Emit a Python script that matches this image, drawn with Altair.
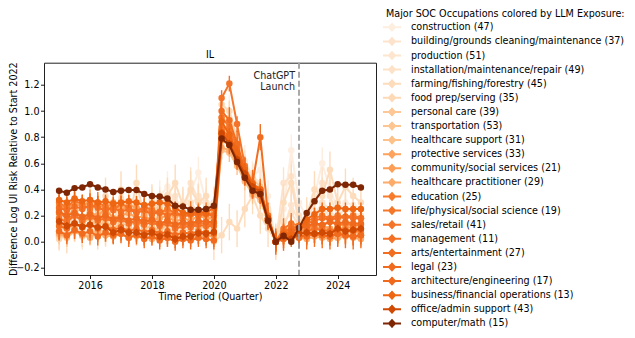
import altair as alt
import pandas as pd

QUARTERS = [2015.0, 2015.25, 2015.5, 2015.75, 2016.0, 2016.25, 2016.5, 2016.75,
            2017.0, 2017.25, 2017.5, 2017.75, 2018.0, 2018.25, 2018.5, 2018.75,
            2019.0, 2019.25, 2019.5, 2019.75, 2020.0, 2020.25, 2020.5, 2020.75,
            2021.0, 2021.25, 2021.5, 2021.75, 2022.0, 2022.25, 2022.5, 2022.75,
            2023.0, 2023.25, 2023.5, 2023.75, 2024.0, 2024.25, 2024.5, 2024.75]

OCCUPATIONS = [
    "construction (47)", "building/grounds cleaning/maintenance (37)", "production (51)",
    "installation/maintenance/repair (49)", "farming/fishing/forestry (45)",
    "food prep/serving (35)", "personal care (39)", "transportation (53)",
    "healthcare support (31)", "protective services (33)", "community/social services (21)",
    "healthcare practitioner (29)", "education (25)", "life/physical/social science (19)",
    "sales/retail (41)", "management (11)", "arts/entertainment (27)", "legal (23)",
    "architecture/engineering (17)", "business/financial operations (13)",
    "office/admin support (43)", "computer/math (15)",
]

COLORS = ["#fdeee0", "#fde3cc", "#fde5cf", "#fde2c8", "#fddcbc", "#fdd9b6", "#fdc895",
          "#fdc690", "#fdc28a", "#fda35e", "#fd9e56", "#fdab6a", "#f77b2a", "#f5772a",
          "#f4742a", "#f37024", "#f16d20", "#f16b1e", "#f06a1e", "#ee6512", "#d14a03",
          "#7f2704"]

ERRORS = [0.12, 0.12, 0.10, 0.10, 0.14, 0.08, 0.07, 0.06, 0.07, 0.07, 0.08, 0.05,
          0.06, 0.08, 0.06, 0.06, 0.10, 0.07, 0.07, 0.05, 0.03, 0.02]

CONSTRUCTION = [0.10, 0.14, 0.18, 0.12, 0.20, 0.16, 0.22, 0.15, 0.25, 0.18, 0.30, 0.20, 0.28, 0.35, 0.42, 0.30, 0.25, 0.38, 0.53, 0.30,
                0.22, 0.85, 1.00, 0.80, 0.62, 0.50, 0.55, 0.35, 0.0,
                0.25, 0.70, 0.30, 0.18, 0.35, 0.60, 0.40, 0.25, 0.30, 0.28, 0.25]
BUILDING = [0.05, 0.08, 0.12, 0.06, 0.10, 0.14, 0.08, 0.18, 0.12, 0.20, 0.15, 0.10, 0.22, 0.30, 0.25, 0.35, 0.20, 0.45, 0.32, 0.28,
            0.30, 0.75, 0.95, 0.70, 0.55, 0.45, 0.40, 0.22, 0.0,
            0.45, 0.50, 0.20, 0.15, 0.30, 0.45, 0.35, 0.20, 0.25, 0.22, 0.20]
PRODUCTION = [0.20, 0.22, 0.25, 0.18, 0.24, 0.28, 0.20, 0.26, 0.22, 0.30, 0.25, 0.22, 0.32, 0.28, 0.36, 0.25, 0.30, 0.28, 0.35, 0.30,
              0.28, 0.90, 0.85, 0.72, 0.60, 0.50, 0.45, 0.25, 0.0,
              0.10, 0.28, 0.15, 0.12, 0.20, 0.30, 0.25, 0.15, 0.18, 0.20, 0.18]
INSTALLATION = [0.08, 0.12, 0.10, 0.15, 0.12, 0.18, 0.14, 0.10, 0.16, 0.20, 0.12, 0.18, 0.15, 0.22, 0.18, 0.25, 0.14, 0.30, 0.22, 0.20,
                0.18, 0.80, 0.78, 0.65, 0.50, 0.42, 0.38, 0.20, 0.0,
                0.15, 0.22, 0.12, 0.10, 0.18, 0.25, 0.20, 0.12, 0.15, 0.14, 0.12]
FARMING = [0.18, 0.05, 0.25, 0.10, 0.30, 0.08, 0.35, 0.12, 0.40, 0.15, 0.45, 0.20, 0.30, 0.25, 0.35, 0.45, 0.28, 0.40, 0.30, 0.35,
           0.00, 0.05, 0.15, 0.10, 0.25, 0.35, 0.20, 0.10, 0.0,
           0.30, 0.45, 0.15, 0.20, 0.40, 0.35, 0.55, 0.30, 0.42, 0.35, 0.30]
FOOD_PREP = [0.02, 0.05, 0.08, 0.04, 0.06, 0.10, 0.05, 0.08, 0.06, 0.12, 0.08, 0.05, 0.10, 0.08, 0.12, 0.06, 0.10, 0.08, 0.12, 0.10,
             0.10, 1.05, 1.00, 0.78, 0.58, 0.45, 0.40, 0.22, 0.0,
             0.05, 0.10, 0.04, 0.06, 0.08, 0.12, 0.06, 0.05, 0.08, 0.06, 0.05]
PERSONAL_CARE = [0.05, 0.03, 0.08, 0.06, 0.04, 0.10, 0.07, 0.05, 0.09, 0.06, 0.04, 0.08, 0.05, 0.06, 0.03, 0.07, 0.05, 0.08, 0.06, 0.04,
                 0.08, 0.95, 0.90, 0.70, 0.55, 0.48, 0.42, 0.20, 0.0,
                 0.02, 0.05, 0.03, 0.04, 0.06, 0.05, 0.04, 0.03, 0.05, 0.04, 0.03]
TRANSPORTATION = [0.25, 0.28, 0.22, 0.26, 0.30, 0.24, 0.28, 0.25, 0.27, 0.22, 0.26, 0.24, 0.20, 0.25, 0.22, 0.18, 0.22, 0.20, 0.24, 0.22,
                  0.22, 0.80, 0.80, 0.66, 0.52, 0.40, 0.36, 0.18, 0.0,
                  0.08, 0.12, 0.10, 0.08, 0.14, 0.12, 0.10, 0.08, 0.12, 0.10, 0.09]
HEALTH_SUPPORT = [0.12, 0.15, 0.10, 0.14, 0.18, 0.12, 0.16, 0.10, 0.14, 0.12, 0.16, 0.10, 0.12, 0.08, 0.14, 0.10, 0.12, 0.15, 0.10, 0.12,
                  0.14, 0.70, 0.68, 0.58, 0.46, 0.36, 0.32, 0.15, 0.0,
                  0.06, 0.10, 0.08, 0.05, 0.10, 0.08, 0.06, 0.05, 0.08, 0.07, 0.06]
PROTECTIVE = [0.22, 0.20, 0.24, 0.18, 0.22, 0.20, 0.25, 0.18, 0.20, 0.22, 0.18, 0.20, 0.16, 0.18, 0.20, 0.15, 0.18, 0.16, 0.20, 0.18,
              0.18, 0.85, 0.80, 0.68, 0.52, 0.40, 0.36, 0.16, 0.0,
              0.05, 0.10, 0.08, 0.06, 0.12, 0.10, 0.08, 0.06, 0.10, 0.08, 0.07]
COMMUNITY = [0.28, 0.25, 0.30, 0.26, 0.32, 0.28, 0.26, 0.30, 0.24, 0.28, 0.26, 0.22, 0.25, 0.22, 0.24, 0.20, 0.22, 0.20, 0.22, 0.20,
             0.22, 0.88, 0.84, 0.70, 0.55, 0.42, 0.38, 0.18, 0.0,
             0.06, 0.12, 0.10, 0.08, 0.14, 0.12, 0.10, 0.08, 0.12, 0.10, 0.10]
HEALTH_PRACT = [0.06, 0.04, 0.08, 0.05, 0.03, 0.07, 0.05, 0.04, 0.06, 0.03, 0.05, 0.04, 0.02, 0.04, 0.03, 0.05, 0.02, 0.04, 0.03, 0.05,
                0.04, 0.72, 0.70, 0.60, 0.48, 0.38, 0.34, 0.16, 0.0,
                0.02, 0.04, 0.03, 0.02, 0.04, 0.03, 0.02, 0.03, 0.04, 0.03, 0.02]
EDUCATION = [0.22, 0.18, 0.20, 0.16, 0.19, 0.17, 0.21, 0.15, 0.18, 0.16, 0.14, 0.17, 0.15, 0.13, 0.16, 0.12, 0.14, 0.12, 0.15, 0.13,
             0.14, 0.86, 0.80, 0.66, 0.52, 0.40, 0.36, 0.16, 0.0,
             0.08, 0.10, 0.12, 0.10, 0.14, 0.12, 0.16, 0.12, 0.14, 0.12, 0.13]
SCIENCE = [0.30, 0.26, 0.32, 0.28, 0.25, 0.30, 0.27, 0.24, 0.29, 0.26, 0.23, 0.27, 0.24, 0.22, 0.25, 0.22, 0.20, 0.23, 0.21, 0.22,
           0.20, 0.95, 0.88, 0.72, 0.56, 0.44, 0.40, 0.18, 0.0,
           0.10, 0.14, 0.12, 0.16, 0.18, 0.20, 0.18, 0.20, 0.19, 0.20, 0.18]
SALES = [0.18, 0.15, 0.20, 0.17, 0.19, 0.16, 0.18, 0.15, 0.17, 0.14, 0.16, 0.13, 0.15, 0.12, 0.14, 0.10, 0.12, 0.11, 0.13, 0.12,
         0.12, 1.10, 1.21, 0.90, 0.58, 0.44, 0.40, 0.18, 0.0,
         0.04, 0.08, 0.06, 0.08, 0.10, 0.09, 0.08, 0.10, 0.09, 0.08, 0.09]
MANAGEMENT = [0.26, 0.24, 0.27, 0.25, 0.28, 0.26, 0.24, 0.26, 0.23, 0.25, 0.22, 0.24, 0.21, 0.23, 0.20, 0.22, 0.19, 0.21, 0.20, 0.21,
              0.20, 0.82, 0.78, 0.65, 0.52, 0.40, 0.36, 0.17, 0.0,
              0.07, 0.10, 0.12, 0.14, 0.16, 0.18, 0.17, 0.18, 0.19, 0.18, 0.18]
ARTS = [0.12, 0.10, 0.14, 0.11, 0.13, 0.10, 0.12, 0.09, 0.11, 0.08, 0.10, 0.07, 0.09, 0.06, 0.08, 0.05, 0.07, 0.06, 0.08, 0.07,
        0.06, 1.00, 0.93, 0.75, 0.55, 0.45, 0.80, 0.20, 0.0,
        0.03, 0.06, 0.05, 0.04, 0.06, 0.05, 0.04, 0.06, 0.05, 0.04, 0.05]
LEGAL = [0.08, 0.05, 0.09, 0.06, 0.08, 0.04, 0.07, 0.05, 0.06, 0.03, 0.05, 0.02, 0.04, 0.01, 0.03, 0.00, 0.02, 0.01, 0.03, 0.02,
         0.01, 0.78, 0.74, 0.62, 0.50, 0.40, 0.36, 0.16, 0.0,
         0.02, 0.04, 0.03, 0.05, 0.06, 0.05, 0.04, 0.06, 0.05, 0.04, 0.05]
ARCHITECTURE = [0.23, 0.20, 0.22, 0.19, 0.21, 0.18, 0.20, 0.17, 0.19, 0.16, 0.18, 0.15, 0.17, 0.14, 0.16, 0.13, 0.15, 0.14, 0.16, 0.15,
                0.15, 0.84, 0.78, 0.64, 0.50, 0.40, 0.36, 0.17, 0.0,
                0.05, 0.08, 0.10, 0.12, 0.14, 0.13, 0.15, 0.14, 0.15, 0.14, 0.14]
BUSINESS = [0.32, 0.30, 0.33, 0.31, 0.32, 0.30, 0.31, 0.29, 0.30, 0.31, 0.30, 0.28, 0.29, 0.30, 0.29, 0.26, 0.22, 0.22, 0.23, 0.22,
            0.26, 0.92, 0.82, 0.68, 0.55, 0.44, 0.40, 0.17, 0.0,
            0.06, 0.05, 0.08, 0.17, 0.21, 0.25, 0.25, 0.26, 0.25, 0.25, 0.25]
OFFICE = [0.155, 0.12, 0.14, 0.115, 0.13, 0.11, 0.115, 0.07, 0.09, 0.07, 0.07, 0.05, 0.07, 0.04, 0.055, 0.02, 0.04, 0.04, 0.065, 0.06,
          0.075, 0.83, 0.75, 0.63, 0.52, 0.42, 0.38, 0.18, 0.0,
          0.04, 0.02, 0.06, 0.07, 0.06, 0.07, 0.06, 0.10, 0.08, 0.09, 0.10]
COMPUTER = [0.39, 0.375, 0.41, 0.415, 0.44, 0.415, 0.40, 0.38, 0.39, 0.395, 0.395, 0.365, 0.35, 0.345, 0.33, 0.275, 0.27, 0.245, 0.245, 0.25,
            0.275, 0.79, 0.74, 0.61, 0.49, 0.39, 0.365, 0.16, 0.0,
            0.045, 0.0, 0.105, 0.22, 0.31, 0.39, 0.40, 0.44, 0.435, 0.435, 0.415]

SERIES = [CONSTRUCTION, BUILDING, PRODUCTION, INSTALLATION, FARMING, FOOD_PREP, PERSONAL_CARE,
          TRANSPORTATION, HEALTH_SUPPORT, PROTECTIVE, COMMUNITY, HEALTH_PRACT, EDUCATION, SCIENCE,
          SALES, MANAGEMENT, ARTS, LEGAL, ARCHITECTURE, BUSINESS, OFFICE, COMPUTER]

LAUNCH = 2022.75
X_TICKS = [2016, 2018, 2020, 2022, 2024]
Y_TICKS = [-0.2, 0.0, 0.2, 0.4, 0.6, 0.8, 1.0, 1.2]
PANEL = "IL"

rows = []
for name, vals, err in zip(OCCUPATIONS, SERIES, ERRORS):
    assert len(vals) == len(QUARTERS), name
    for q, v in zip(QUARTERS, vals):
        rows.append({"occupation": name, "quarter": q, "value": v, "lo": v - err, "hi": v + err})
df = pd.DataFrame(rows)

FONT = "DejaVu Sans"
FS = 9.6

xscale = alt.Scale(domain=[2014.5125, 2025.2375], nice=False, zero=False)
yscale = alt.Scale(domain=[-0.255, 1.37], nice=False, zero=False)
xaxis = alt.Axis(values=X_TICKS, format="d", title="Time Period (Quarter)",
                 titleY=21, titleBaseline="middle")
yaxis = alt.Axis(values=Y_TICKS, format=".1f", title="Difference Log UI Risk Relative to Start 2022",
                 titleX=-31, titleY=106, titleBaseline="middle", titleAlign="center", titleAngle=-90)

cscale = alt.Scale(domain=OCCUPATIONS, range=COLORS)
legend = alt.Legend(
    orient="none", legendX=342, legendY=-54,
    title="Major SOC Occupations colored by LLM Exposure:",
    titleFont=FONT, titleFontSize=FS, titleFontWeight="normal", titleColor="black",
    titlePadding=3, titleLimit=500,
    labelFont=FONT, labelFontSize=FS, labelColor="black", labelLimit=500, labelOffset=13,
    symbolType="M-1.8,0H1.8M0,-0.8V0.8M-0.6,0L0,-0.65L0.6,0L0,0.65Z",
    symbolSize=100, symbolStrokeWidth=2, rowPadding=-1.9,
)

layers = []
for name, col in zip(OCCUPATIONS, COLORS):
    base = alt.Chart(df).transform_filter(alt.datum.occupation == name)
    err = base.mark_rule(strokeWidth=1.4, color=col).encode(
        x=alt.X("quarter:Q", scale=xscale, axis=xaxis),
        y=alt.Y("lo:Q", scale=yscale, axis=yaxis),
        y2="hi:Q",
    )
    line = base.mark_line(strokeWidth=2).encode(
        x=alt.X("quarter:Q", scale=xscale, axis=xaxis),
        y=alt.Y("value:Q", scale=yscale, axis=yaxis),
        color=alt.Color("occupation:N", scale=cscale, legend=legend),
    )
    pts = base.mark_circle(size=42, opacity=1, color=col).encode(
        x=alt.X("quarter:Q", scale=xscale, axis=xaxis),
        y=alt.Y("value:Q", scale=yscale, axis=yaxis),
    )
    layers += [err, line, pts]

marker_df = pd.DataFrame({"launch": [LAUNCH]})
vline = alt.Chart(marker_df).mark_rule(strokeDash=[6, 3], color="#a0a0a0", strokeWidth=1.8).encode(
    x=alt.X("launch:Q", scale=xscale, axis=xaxis)
)
label = alt.Chart(marker_df).mark_text(
    text=["ChatGPT", "Launch"], align="right", baseline="top", dx=-4,
    font=FONT, fontSize=FS, lineHeight=11, color="#222"
).encode(x=alt.X("launch:Q", scale=xscale, axis=xaxis), y=alt.value(8))

panel_title = alt.Chart(marker_df).mark_text(
    text=PANEL, align="center", baseline="bottom", font=FONT, fontSize=FS, color="black"
).encode(x=alt.value(166), y=alt.value(-3))

chart = alt.layer(*layers, vline, label, panel_title).properties(
    width=332, height=212.3,
    padding={"left": 36, "top": 54.7, "right": 251, "bottom": 55},
    autosize=alt.AutoSizeParams(type="none"),
).configure_view(
    stroke="#222", strokeWidth=1
).configure_axis(
    grid=False, domain=False, ticks=True, tickColor="black", tickSize=3.5, tickWidth=0.9,
    labelFont=FONT, labelFontSize=FS, labelColor="black", labelPadding=1.5,
    titleFont=FONT, titleFontSize=FS, titleFontWeight="normal", titleColor="black",
)

chart.save("out.html", embed_options={"renderer": "svg", "actions": False})
